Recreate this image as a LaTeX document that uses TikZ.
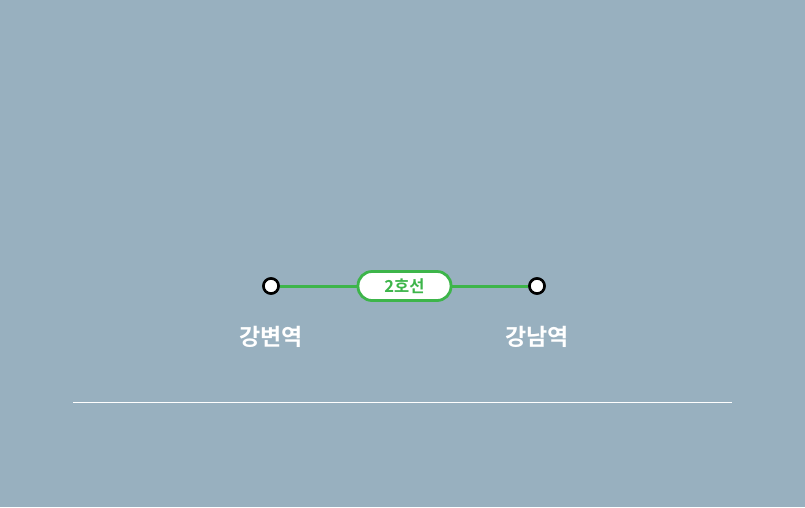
\documentclass[tikz,border=0pt]{standalone}
\usepackage{fontspec}
\newfontfamily\krfont{Noto Sans CJK KR}[BoldFont={* Bold}]
\definecolor{bg}{HTML}{98B0BF}
\definecolor{lineg}{HTML}{3DB54A}
\begin{document}
\begin{tikzpicture}[x=1pt,y=-1pt,
  station/.style={circle,draw=black,fill=white,line width=2.5pt,minimum size=15pt,inner sep=0pt},
  badge/.style={rounded corners=14pt,draw=lineg,fill=white,line width=2.8pt,minimum width=93pt,minimum height=29pt,inner sep=0pt,text=lineg,font=\krfont\bfseries\fontsize{16.5}{16.5}\selectfont},
  stlabel/.style={text=white,font=\krfont\bfseries\fontsize{23}{23}\selectfont,inner sep=0pt},
  track/.style={draw=lineg,line width=3pt}]
\fill[bg] (0,0) rectangle (805,507);
\useasboundingbox (0,0) rectangle (805,507);
\node[station] (a) at (271,286) {};
\node[station] (b) at (537,286) {};
\node[badge] (l) at (404.5,286) {2호선};
\draw[track] (a) -- (l);
\draw[track] (l) -- (b);
\node[station] at (271,286) {};
\node[station] at (537,286) {};
\node[stlabel] (la) at (271,337) {강변역};
\node[stlabel] (lb) at (537,337) {강남역};
\coordinate (s1) at (73,402.5);
\coordinate (s2) at (732,402.5);
\draw[white,line width=1pt] (s1) -- (s2);
\end{tikzpicture}
\end{document}
